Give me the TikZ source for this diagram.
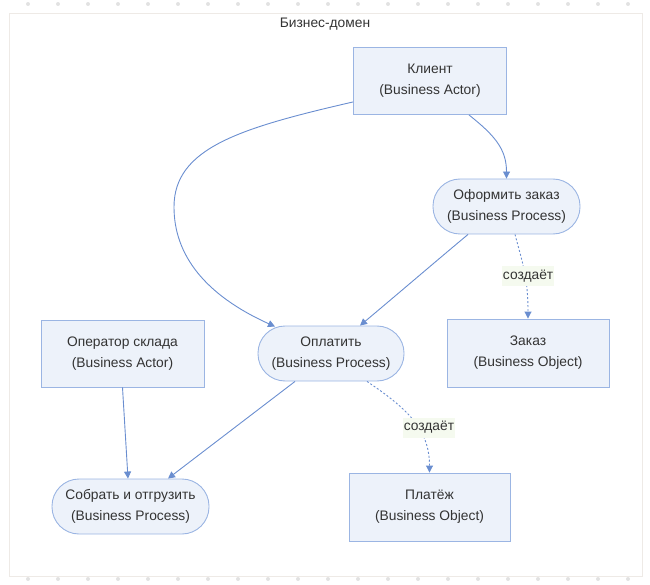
\documentclass[tikz,border=0pt]{standalone}
\usepackage{fontspec}
\setmainfont{Liberation Sans}
\usetikzlibrary{arrows.meta, calc, positioning}

\definecolor{nodefill}{HTML}{EDF2FA}
\definecolor{nodeline}{HTML}{9BB5E3}
\definecolor{edgeline}{HTML}{6A8ED0}
\definecolor{textdark}{HTML}{333333}
\definecolor{lblfill}{HTML}{F5FAEF}
\definecolor{framegray}{HTML}{EEEAE6}
\definecolor{dotgray}{HTML}{E2E2E2}

\begin{document}
\begin{tikzpicture}[x=1pt,y=-1pt,every node/.style={font=\fontsize{13.8pt}{21pt}\selectfont,text=textdark}]

\tikzstyle{actor}=[rectangle,draw=nodeline,fill=nodefill,line width=0.9pt,align=center,inner sep=0pt,minimum height=67pt];
\tikzstyle{process}=[actor,rounded corners=27pt,minimum height=55pt];
\tikzstyle{object}=[actor,minimum height=68pt];
\tikzstyle{flow}=[draw=edgeline,line width=0.9pt,-{Triangle[length=7pt,width=7pt]}];
\tikzstyle{creates}=[flow,dash pattern=on 2pt off 2pt];
\tikzstyle{lbl}=[fill=lblfill,inner xsep=1pt,inner ysep=0pt,minimum height=20pt];

\useasboundingbox (0,0) rectangle (650,585);

% canvas
\foreach \x in {28,58,...,628} {
  \fill[dotgray] (\x,4) circle (2pt);
  \fill[dotgray] (\x,579) circle (2pt);
}
\draw[framegray,line width=1pt] (9,14) rectangle (642,576);
\node(TITLE) at (325,24.5) {Бизнес-домен};

% actors, processes, objects
\node(CLIENT) [actor, minimum width=153pt] at (430,81) {Клиент\\(Business Actor)};
\node(ORDERPROC) [process, minimum width=147pt] at (506.5,206.5) {Оформить заказ\\(Business Process)};
\node(OPERATOR) [actor, minimum width=163pt] at (122.5,353.5) {Оператор склада\\(Business Actor)};
\node(PAY) [process, minimum width=146pt] at (331,353.5) {Оплатить\\(Business Process)};
\node(ORDER) [object, minimum width=162pt] at (528,353) {Заказ\\(Business Object)};
\node(SHIP) [process, minimum width=157pt] at (130.5,506.5) {Собрать и отгрузить\\(Business Process)};
\node(PAYMENT) [object, minimum width=161pt] at (429.5,507) {Платёж\\(Business Object)};

\coordinate(BEND) at (174,207);

% flows
\draw[flow] ([xshift=39pt]CLIENT.south) .. controls +(25,20) and +(0,-30) .. (ORDERPROC.north);
\draw[flow] ([yshift=13pt]CLIENT.south west) .. controls (240,128) and (174,148) .. (BEND)
  .. controls (174,255) and (205,295) .. ([xshift=-56pt,yshift=-1pt]PAY.north);
\draw[flow] ([xshift=-38.5pt]ORDERPROC.south) .. controls +(-30,25) and +(30,-25) .. ([xshift=29pt]PAY.north);
\draw[creates] ([xshift=8.5pt]ORDERPROC.south) .. controls +(8,30) and +(0,-40) .. node[lbl,pos=.55,xshift=3pt] (LBLORDER) {создаёт} (ORDER.north);
\draw[creates] ([xshift=36pt]PAY.south) .. controls +(45,30) and +(0,-40) .. node[lbl,pos=.55,xshift=11pt] (LBLPAYMENT) {создаёт} (PAYMENT.north);
\draw[flow] ([xshift=-36pt]PAY.south) -- ([xshift=37.5pt]SHIP.north);
\draw[flow] (OPERATOR.south) -- ([xshift=-2.5pt]SHIP.north);

\end{tikzpicture}
\end{document}
